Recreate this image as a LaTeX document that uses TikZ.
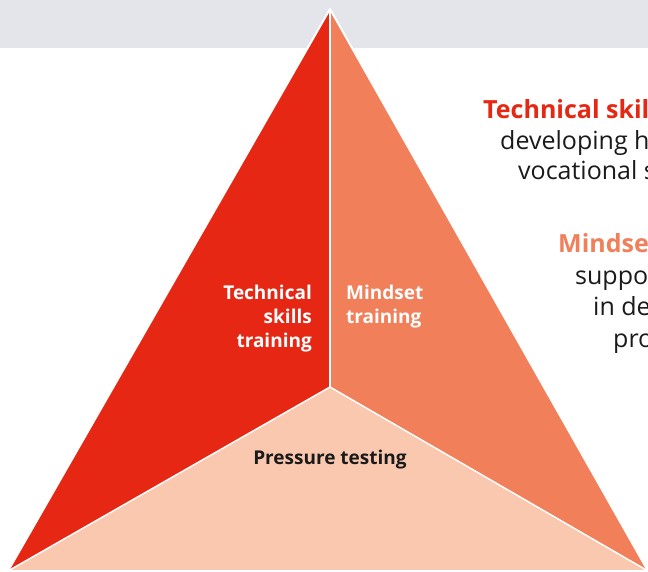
\documentclass[tikz,border=0pt]{standalone}
\usepackage{fontspec}
\setmainfont{Open Sans}
\definecolor{tred}{HTML}{E52713}
\definecolor{torange}{HTML}{F07F5A}
\definecolor{tpeach}{HTML}{F9C8AF}
\definecolor{band}{HTML}{E4E5EA}
\definecolor{ink}{HTML}{1A1A1A}
\begin{document}
\begin{tikzpicture}[x=1pt,y=-1pt,
  facelbl/.style={text=white, font=\fontsize{19}{24}\selectfont\bfseries, inner sep=0pt},
  headlbl/.style={font=\fontsize{25}{30}\selectfont\bfseries, inner sep=0pt, anchor=base west},
  bodylbl/.style={text=ink, font=\fontsize{25}{30}\selectfont, inner sep=0pt, anchor=base west},
  edge/.style={white, line width=1.5pt}]
\useasboundingbox (0,0) rectangle (648,571);
\clip (0,0) rectangle (648,571);
\fill[band] (0,0) rectangle (648,48);
\coordinate (A) at (330,9);
\coordinate (L) at (8,571);
\coordinate (R) at (648,571);
\coordinate (C) at (330,387);
\fill[tred] (A) -- (C) -- (L) -- cycle;
\fill[torange] (A) -- (R) -- (C) -- cycle;
\fill[tpeach] (L) -- (C) -- (R) -- cycle;
\draw[edge] (A) -- (C);
\draw[edge] (C) -- (L);
\draw[edge] (C) -- (R);
\draw[white, line width=2pt, line join=round] (A) -- (L) -- (R) -- cycle;
% face labels (base anchor = baseline of the last line)
\node[facelbl, anchor=base east, align=right] (tl) at (312,347) {Technical\\skills\\training};
\node[facelbl, anchor=base west, align=left] (ml) at (346,323) {Mindset\\training};
\node[facelbl, text=ink, anchor=base] (pl) at (330,464) {Pressure testing};
% right-hand text (cut off at the right edge, as in the reference)
\node[headlbl, text=tred] (h1) at (483,118) {Technical skills};
\node[bodylbl] (b1) at (500,149) {developing h};
\node[bodylbl] (b2) at (518,179) {vocational s};
\node[headlbl, text=torange] (h2) at (558,252) {Mindset};
\node[bodylbl] (b3) at (575,284) {suppo};
\node[bodylbl] (b4) at (593,315) {in de};
\node[bodylbl] (b5) at (613,347) {pro};
\end{tikzpicture}
\end{document}
